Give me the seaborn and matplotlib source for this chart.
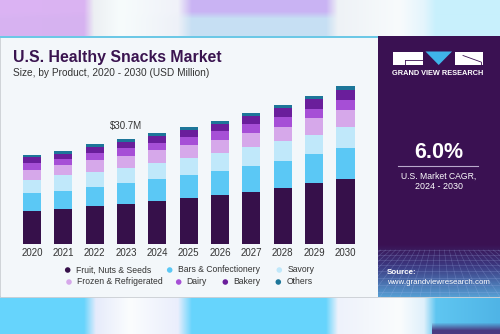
import numpy as np
import matplotlib
matplotlib.use("Agg")
import matplotlib.pyplot as plt
from matplotlib.colors import to_rgb
from matplotlib.patches import Rectangle, Polygon
import seaborn as sns

# ---------------- data ----------------
years = ["2020", "2021", "2022", "2023", "2024", "2025", "2026", "2027", "2028", "2029", "2030"]
products = ["Fruit, Nuts & Seeds", "Bars & Confectionery", "Savory",
            "Frozen & Refrigerated", "Dairy", "Bakery", "Others"]
fruit_nuts_seeds = [9.65, 10.15, 11.1, 11.6, 12.65, 13.45, 14.3, 15.2, 16.45, 17.75, 18.9]
bars_confectionery = [5.2, 5.45, 5.65, 6.15, 6.25, 6.65, 7.1, 7.6, 7.9, 8.5, 9.25]
savory = [3.9, 4.45, 4.4, 4.6, 4.9, 5.05, 5.25, 5.45, 5.75, 5.7, 6.15]
frozen_refrigerated = [2.9, 2.95, 3.4, 3.5, 3.55, 3.7, 3.9, 4.1, 4.2, 4.85, 4.9]
dairy = [2.0, 1.8, 1.95, 2.1, 2.3, 2.35, 2.35, 2.6, 2.7, 2.75, 2.9]
bakery = [1.8, 1.5, 1.75, 1.8, 1.95, 2.1, 2.15, 2.45, 2.8, 2.9, 2.95]
others = [0.6, 0.95, 0.95, 0.95, 0.95, 0.95, 0.95, 0.85, 0.95, 0.95, 1.15]
highlight_year = "2023"
highlight_label = "$30.7M"
cagr_value = "6.0%"

series = [fruit_nuts_seeds, bars_confectionery, savory, frozen_refrigerated, dairy, bakery, others]
colors = ["#36104a", "#5bc8f5", "#c0e8fa", "#d6a8ea", "#a64fd6", "#6a1e9b", "#1d7699"]

FONT = "Liberation Sans"

# ---------------- figure & background ----------------
W, H = 500, 334
fig = plt.figure(figsize=(5, 3.34), dpi=100)
bg = fig.add_axes([0, 0, 1, 1])
bg.set_xlim(0, W)
bg.set_ylim(H, 0)
bg.axis("off")


def grad(stops):
    xs = np.arange(W) + 0.5
    px = [s[0] for s in stops]
    cols = np.array([to_rgb(s[1]) for s in stops])
    return np.stack([np.interp(xs, px, cols[:, k]) for k in range(3)], axis=1)


img = np.ones((H, W, 3))
top_a = grad([(0, "#dcb4f4"), (84, "#dab3f2"), (94, "#eceff3"), (120, "#f7fcfc"), (178, "#f0f2f9"),
              (192, "#c9b3f3"), (326, "#c9b3f3"), (338, "#eef2f6"), (400, "#f8fbfc"),
              (424, "#e4f5fc"), (436, "#c8f0fc"), (500, "#c8f0fc")])
top_b = grad([(0, "#d8b3f2"), (84, "#d6b2f0"), (94, "#eceff3"), (120, "#f7fcfc"), (178, "#eef1f8"),
              (192, "#c6dff3"), (326, "#c6dff3"), (338, "#eef2f6"), (400, "#f8fbfc"),
              (424, "#e4f5fc"), (436, "#c8f0fc"), (500, "#c8f0fc")])
for r in range(0, 37):
    w = np.clip((r - 11) / 7.0, 0, 1)
    img[r] = top_a * (1 - w) + top_b * w
bot = grad([(0, "#66d4fc"), (84, "#66d4fc"), (96, "#e6ebfb"), (130, "#fbfdfe"), (178, "#eaeefc"),
            (192, "#66d4fc"), (326, "#66d4fc"), (338, "#eef2fb"), (400, "#fafcfd"),
            (424, "#dff0fb"), (436, "#5fc6f1"), (500, "#4fb4e6")])
for r in range(296, H):
    img[r] = bot
for r in range(322, H):
    w = np.clip((r - 322) / 8.0, 0, 1)
    img[r, 432:] = img[r, 432:] * (1 - w) + np.array(to_rgb("#4a3a80")) * w
bg.imshow(img, extent=[0, W, H, 0], aspect="auto", interpolation="bilinear", zorder=0)

# card
bg.add_patch(Rectangle((0, 36), 500, 261, facecolor="#f3f7fa", edgecolor="#c9cdd2", lw=0.6, zorder=1))
bg.add_patch(Rectangle((0, 36), 378, 2.2, facecolor="#6cc8e6", edgecolor="none", zorder=2))

# right panel with gradient bottom
pan = np.zeros((261, 122, 3))
c_top = np.array(to_rgb("#3a1152"))
c_mid = np.array(to_rgb("#3c3a82"))
c_bot = np.array(to_rgb("#57a2d6"))
for r in range(261):
    y = 36 + r
    if y < 244:
        c = c_top
    elif y < 266:
        t = (y - 244) / 22
        c = c_top * (1 - t) + c_mid * t
    else:
        t = (y - 266) / 31
        c = c_mid * (1 - t) + c_bot * t
    pan[r] = c
bg.imshow(pan, extent=[378, 500, 297, 36], aspect="auto", zorder=2)
# perspective grid
clip = Rectangle((378, 36), 122, 261, transform=bg.transData)
grid_lines = []
for yy in [250, 254.5, 259.5, 265, 271, 277.5, 284.5, 292]:
    grid_lines += bg.plot([378, 500], [yy, yy], color="#a8bcf0", lw=0.45, alpha=0.28, zorder=3)
vx, vy = 439, 205
for xb in np.arange(300, 590, 10):
    x0 = vx + (xb - vx) * (250 - vy) / (297 - vy)
    grid_lines += bg.plot([x0, xb], [250, 297], color="#a8bcf0", lw=0.45, alpha=0.28, zorder=3)
for ln in grid_lines:
    ln.set_clip_path(clip)

# logo
bg.add_patch(Rectangle((393, 51.5), 30, 13.5, facecolor="white", edgecolor="none", zorder=4))
bg.add_patch(Polygon([(425.5, 51.5), (452, 51.5), (438.7, 65)], closed=True,
                     facecolor="#3fb5e9", edgecolor="none", zorder=4))
bg.add_patch(Rectangle((455, 51.5), 28, 13.5, facecolor="white", edgecolor="none", zorder=4))
bg.plot([405, 423], [59.5, 59.5], color="#3a1152", lw=0.6, zorder=5)
bg.plot([405, 405], [59.5, 65], color="#3a1152", lw=0.6, zorder=5)
bg.plot([463, 481], [55.5, 62], color="#3a1152", lw=0.6, zorder=5)
bg.plot([481, 481], [62, 65], color="#3a1152", lw=0.6, zorder=5)
bg.text(438, 73.5, "GRAND VIEW RESEARCH", color="white", fontsize=5.3, fontweight="bold",
        family=FONT, ha="center", va="center", zorder=5)

bg.text(438.5, 153, cagr_value, color="white", fontsize=15.5, fontweight="bold",
        family=FONT, ha="center", va="center", zorder=5)
bg.plot([398, 478], [166, 166], color="#b9a9cc", lw=0.8, zorder=5)
bg.text(439, 176, "U.S. Market CAGR,", color="white", fontsize=6.2, family=FONT,
        ha="center", va="center", zorder=5)
bg.text(439, 186.5, "2024 - 2030", color="white", fontsize=6.4, family=FONT,
        ha="center", va="center", zorder=5)
bg.text(387, 272, "Source:", color="white", fontsize=5.8, fontweight="bold", family=FONT,
        ha="left", va="center", zorder=5)
bg.text(387, 282.5, "www.grandviewresearch.com", color="white", fontsize=5.7, family=FONT,
        ha="left", va="center", zorder=5)

# titles
bg.text(13, 57.5, "U.S. Healthy Snacks Market", color="#3a1450", fontsize=11.4, fontweight="bold",
        family=FONT, ha="left", va="center", zorder=5)
bg.text(13, 73, "Size, by Product, 2020 - 2030 (USD Million)", color="#333333", fontsize=7.3,
        family=FONT, ha="left", va="center", zorder=5)

# ---------------- chart ----------------
px_per_unit = 105 / 30.7
ymax = 48
ax_h = ymax * px_per_unit
step = 31.35
ax_left = 32 - 0.5 * step
ax_w = 11 * step
ax = fig.add_axes([ax_left / W, (H - 244) / H, ax_w / W, ax_h / H])
ax.set_facecolor("none")

cum = np.cumsum(np.array(series), axis=0)
for i in reversed(range(len(series))):
    sns.barplot(x=years, y=cum[i], order=years, color=colors[i], saturation=1,
                width=0.575, errorbar=None, linewidth=0, ax=ax, zorder=3)

ax.set_xlim(-0.5, 10.5)
ax.set_ylim(0, ymax)
for s in ax.spines.values():
    s.set_visible(False)
ax.set_yticks([])
ax.set_ylabel("")
ax.set_xlabel("")
ax.tick_params(axis="x", length=0, pad=3, labelsize=7, labelcolor="#333333")
for lab in ax.get_xticklabels():
    lab.set_family(FONT)

hi = years.index(highlight_year)
ax.annotate(highlight_label, xy=(hi, cum[-1][hi]), xytext=(0, 13), textcoords="offset pixels",
            ha="center", va="center", fontsize=7, color="#333333", family=FONT)

# legend
row1 = [(67.7, 0), (169.7, 1), (279.3, 2)]
row2 = [(69, 3), (178.7, 4), (225.3, 5), (278.3, 6)]
for yy, row in [(270, row1), (282, row2)]:
    for xx, k in row:
        bg.scatter([xx], [yy], s=16, color=colors[k], edgecolors="none", zorder=6)
        bg.text(xx + 8, yy, products[k], fontsize=6.2, color="#333333", family=FONT,
                ha="left", va="center", zorder=6)

fig.savefig("out.png", dpi=100)
